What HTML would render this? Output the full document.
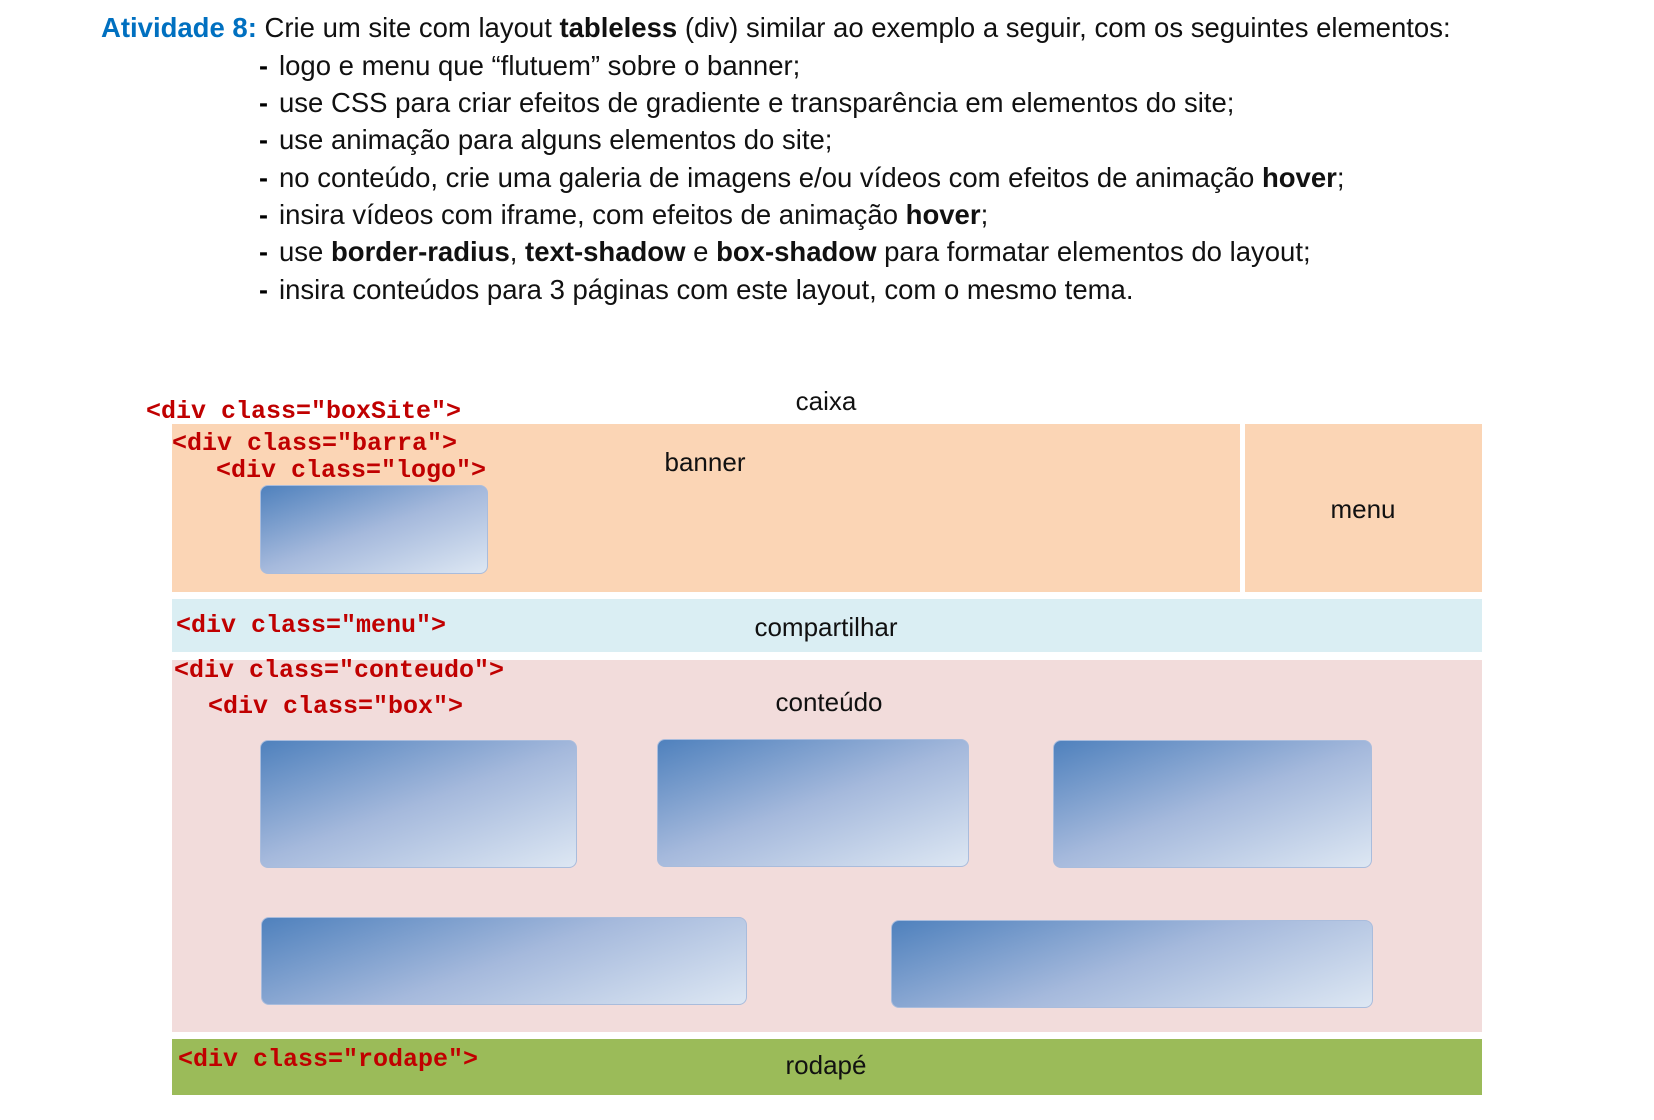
<!DOCTYPE html>
<html><head><meta charset="utf-8"><style>
body{margin:0;width:1654px;height:1120px;background:#fff;position:relative;overflow:hidden;font-family:"Liberation Sans",sans-serif;}
.a{position:absolute;}
.ln{position:absolute;white-space:nowrap;font-size:27.5px;color:#111;line-height:30px;transform:scaleX(1.0);transform-origin:left center;}
.code{position:absolute;white-space:nowrap;font-family:"Liberation Mono",monospace;font-weight:bold;color:#c00000;font-size:25px;line-height:28px;}
.lab{position:absolute;white-space:nowrap;font-size:26px;color:#111;transform:translate(-50%,-50%);line-height:30px;}
.g{position:absolute;border-radius:8px;border:1px solid #a9bcdc;background:linear-gradient(160deg,#4f81bd 0%,#a5b9dc 50%,#dde7f3 100%);box-sizing:border-box;}
.d{position:absolute;font-weight:bold;font-size:27px;line-height:30px;}
</style></head><body>
<div class="ln" style="left:101px;top:13px"><b style="color:#0070c0">Atividade 8:</b> Crie um site com layout <b>tableless</b> (div) similar ao exemplo a seguir, com os seguintes elementos:</div>
<div class="d" style="left:259px;top:51px">-</div><div class="ln" style="left:279px;top:51px">logo e menu que “flutuem” sobre o banner;</div>
<div class="d" style="left:259px;top:88px">-</div><div class="ln" style="left:279px;top:88px">use CSS para criar efeitos de gradiente e transparência em elementos do site;</div>
<div class="d" style="left:259px;top:125px">-</div><div class="ln" style="left:279px;top:125px">use animação para alguns elementos do site;</div>
<div class="d" style="left:259px;top:163px">-</div><div class="ln" style="left:279px;top:163px">no conteúdo, crie uma galeria de imagens e/ou vídeos com efeitos de animação <b>hover</b>;</div>
<div class="d" style="left:259px;top:200px">-</div><div class="ln" style="left:279px;top:200px">insira vídeos com iframe, com efeitos de animação <b>hover</b>;</div>
<div class="d" style="left:259px;top:237px">-</div><div class="ln" style="left:279px;top:237px">use <b>border-radius</b>, <b>text-shadow</b> e <b>box-shadow</b> para formatar elementos do layout;</div>
<div class="d" style="left:259px;top:275px">-</div><div class="ln" style="left:279px;top:275px">insira conteúdos para 3 páginas com este layout, com o mesmo tema.</div>

<div class="a" style="left:172px;top:424px;width:1068px;height:168px;background:#fbd5b5"></div>
<div class="a" style="left:1245px;top:424px;width:237px;height:168px;background:#fbd5b5"></div>
<div class="a" style="left:172px;top:599px;width:1310px;height:53px;background:#daeef3"></div>
<div class="a" style="left:172px;top:660px;width:1310px;height:372px;background:#f2dcdb"></div>
<div class="a" style="left:172px;top:1039px;width:1310px;height:56px;background:#9bbb59"></div>

<div class="g" style="left:260px;top:485px;width:228px;height:89px"></div>
<div class="g" style="left:260px;top:740px;width:317px;height:128px"></div>
<div class="g" style="left:657px;top:739px;width:312px;height:128px"></div>
<div class="g" style="left:1053px;top:740px;width:319px;height:128px"></div>
<div class="g" style="left:261px;top:917px;width:486px;height:88px"></div>
<div class="g" style="left:891px;top:920px;width:482px;height:88px"></div>

<div class="code" style="left:146px;top:398px">&lt;div class="boxSite"&gt;</div>
<div class="code" style="left:172px;top:430px">&lt;div class="barra"&gt;</div>
<div class="code" style="left:216px;top:457px">&lt;div class="logo"&gt;</div>
<div class="code" style="left:176px;top:612px">&lt;div class="menu"&gt;</div>
<div class="code" style="left:174px;top:657px">&lt;div class="conteudo"&gt;</div>
<div class="code" style="left:208px;top:693px">&lt;div class="box"&gt;</div>
<div class="code" style="left:178px;top:1046px">&lt;div class="rodape"&gt;</div>

<div class="lab" style="left:826px;top:401px">caixa</div>
<div class="lab" style="left:705px;top:462px">banner</div>
<div class="lab" style="left:1363px;top:509px">menu</div>
<div class="lab" style="left:826px;top:627px">compartilhar</div>
<div class="lab" style="left:829px;top:702px">conteúdo</div>
<div class="lab" style="left:826px;top:1065px">rodapé</div>
</body></html>
